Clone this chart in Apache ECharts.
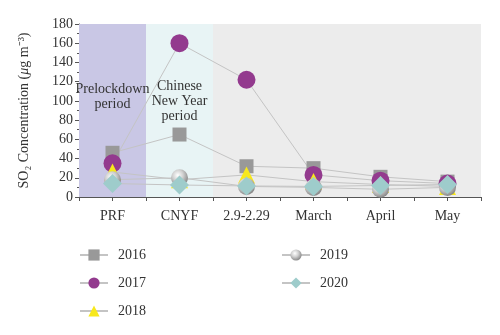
<!DOCTYPE html>
<html><head><meta charset="utf-8">
<script src="https://cdn.jsdelivr.net/npm/echarts@6/dist/echarts.min.js"></script>
<style>html,body{margin:0;padding:0;background:#fff}#c{width:500px;height:335px}</style>
</head><body><div id="c"></div>
<script>
const categories = ['PRF', 'CNYF', '2.9-2.29', 'March', 'April', 'May'];
const s2016 = [46, 65, 32, 30, 21, 16];
const s2017 = [35, 160, 122, 23, 17, 14];
const s2018 = [26, 18, 23, 16, 13, 11];
const s2019 = [18, 20, 11, 10, 8, 10];
const s2020 = [14, 12.5, 11.5, 11, 12, 13];
const yTicks = [0, 20, 40, 60, 80, 100, 120, 140, 160, 180];
const bandLabels = ['Prelockdown\nperiod', 'Chinese\nNew Year\nperiod'];

const font = 'Liberation Serif';
const lineStyle = {color: '#c4c4c4', width: 1};
const sphere = {type: 'radial', x: 0.4, y: 0.35, r: 0.7, colorStops: [
  {offset: 0, color: '#ffffff'}, {offset: 0.45, color: '#d0d0d0'}, {offset: 1, color: '#7e7e7e'}]};

function mk(name, data, symbol, size, color) {
  return {name, type: 'line', data, symbol, symbolSize: size, lineStyle,
    itemStyle: {color, borderWidth: 0}, xAxisIndex: 0, yAxisIndex: 0, animation: false,
    emphasis: {disabled: true}};
}

const chart = echarts.init(document.getElementById('c'), null, {renderer: 'canvas'});
chart.setOption({
  animation: false,
  textStyle: {fontFamily: font},
  grid: {left: 79, right: 19, top: 24, bottom: 138},
  xAxis: [
    {type: 'category', data: categories, boundaryGap: true,
      axisLine: {show: false}, axisTick: {show: false},
      axisLabel: {color: '#333', fontFamily: font, fontSize: 14, margin: 12}},
    {type: 'value', min: 0, max: 6, interval: 0.5, position: 'bottom',
      axisLine: {show: true, onZero: false, lineStyle: {color: '#555', width: 1}},
      axisTick: {show: true, length: 4, lineStyle: {color: '#555'}},
      axisLabel: {show: false}, splitLine: {show: false}}
  ],
  yAxis: {type: 'value', min: 0, max: 180, interval: 20,
    name: '{a|SO₂ Concentration (}{i|μ}{a|g m⁻³)}', nameLocation: 'middle', nameGap: 48, nameRotate: 90,
    nameTextStyle: {rich: {a: {fontFamily: font, fontSize: 14, color: '#333'}, i: {fontFamily: font, fontStyle: 'italic', fontSize: 14, color: '#333'}}},
    axisLine: {show: true, lineStyle: {color: '#555'}},
    axisTick: {show: true, length: 4, lineStyle: {color: '#555'}},
    minorTick: {show: true, splitNumber: 2, length: 2, lineStyle: {color: '#555'}},
    axisLabel: {color: '#333', fontFamily: font, fontSize: 14, margin: 6,
      formatter: v => yTicks.includes(v) ? String(v) : ''},
    splitLine: {show: false}},
  legend: [
    {data: ['2016', '2017', '2018'], orient: 'vertical', left: 79, top: 248, itemGap: 14, padding: 0,
      itemWidth: 28, itemHeight: 14, textStyle: {fontFamily: font, fontSize: 14, color: '#333', padding: [0, 0, 0, 5]}},
    {data: ['2019', '2020'], orient: 'vertical', left: 281, top: 248, itemGap: 14, padding: 0,
      itemWidth: 28, itemHeight: 14, textStyle: {fontFamily: font, fontSize: 14, color: '#333', padding: [0, 0, 0, 5]}}
  ],
  series: [
    {type: 'line', xAxisIndex: 1, yAxisIndex: 0, data: [], silent: true,
      markArea: {silent: true, label: {show: true, position: 'insideTop', distance: 0, color: '#333', fontFamily: font, fontSize: 14, lineHeight: 15},
        data: [
          [{xAxis: 0, yAxis: 180, itemStyle: {color: '#c9c7e5'}, name: bandLabels[0], label: {offset: [0, 58]}}, {xAxis: 1, yAxis: 0}],
          [{xAxis: 1, yAxis: 180, itemStyle: {color: '#e8f4f5'}, name: bandLabels[1], label: {offset: [0, 55]}}, {xAxis: 2, yAxis: 0}],
          [{xAxis: 2, yAxis: 180, itemStyle: {color: '#ececec'}, name: ''}, {xAxis: 6, yAxis: 0}]
        ]}},
    mk('2016', s2016, 'rect', 14, '#999999'),
    mk('2017', s2017, 'circle', 18, '#933a8e'),
    mk('2018', s2018, 'triangle', 17, '#f7e81c'),
    mk('2019', s2019, 'circle', 17, sphere),
    mk('2020', s2020, 'diamond', 19, '#9ecccb')
  ]
});
</script></body></html>
